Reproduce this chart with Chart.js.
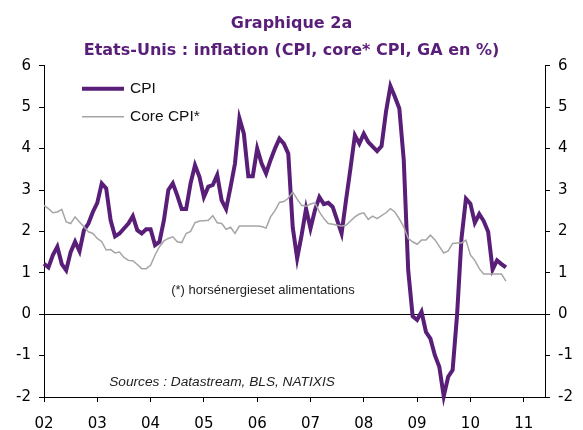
<!DOCTYPE html>
<html>
<head>
<meta charset="utf-8">
<script src="https://cdn.jsdelivr.net/npm/chart.js@4.4.0/dist/chart.umd.min.js"></script>
<style>
  html, body { margin: 0; padding: 0; background: #fff; }
  #wrap { width: 583px; height: 430px; }
</style>
</head>
<body>
<div id="wrap"><canvas id="inflationChart" width="583" height="430"></canvas></div>
<script>
// monthly YoY %, Jan 2002 -> Sep 2010
const startYear = 2002;
const xTickLabels = ['02', '03', '04', '05', '06', '07', '08', '09', '10', '11'];
const cpiValues = [
  1.22, 1.13, 1.43, 1.63, 1.21, 1.06, 1.5, 1.75, 1.52, 2.03, 2.19, 2.47,
  2.69, 3.16, 3.04, 2.27, 1.88, 1.95, 2.07, 2.19, 2.37, 2.03, 1.95, 2.05,
  2.05, 1.67, 1.75, 2.27, 3.0, 3.16, 2.87, 2.54, 2.54, 3.16, 3.6, 3.32,
  2.83, 3.08, 3.12, 3.36, 2.75, 2.54, 3.07, 3.64, 4.73, 4.36, 3.33, 3.33,
  4.0, 3.64, 3.4, 3.72, 4.0, 4.24, 4.12, 3.88, 2.1, 1.35, 1.91, 2.55,
  2.07, 2.51, 2.83, 2.66, 2.69, 2.59, 2.27, 1.95, 2.75, 3.52, 4.32, 4.12,
  4.36, 4.16, 4.05, 3.94, 4.06, 4.89, 5.51, 5.25, 4.97, 3.72, 1.06, -0.05,
  -0.14, 0.06, -0.43, -0.59, -0.99, -1.27, -1.98, -1.51, -1.35, -0.02, 1.83, 2.79,
  2.67, 2.21, 2.42, 2.25, 1.99, 1.08, 1.3, 1.21, 1.13
];
const coreCpiValues = [
  2.63, 2.55, 2.45, 2.47, 2.53, 2.23, 2.19, 2.35, 2.23, 2.11, 1.99, 1.95,
  1.83, 1.75, 1.55, 1.56, 1.48, 1.5, 1.37, 1.3, 1.29, 1.2, 1.1, 1.1,
  1.18, 1.43, 1.63, 1.77, 1.83, 1.87, 1.75, 1.73, 1.95, 2.0, 2.21, 2.25,
  2.26, 2.27, 2.38, 2.21, 2.19, 2.05, 2.1, 1.95, 2.13, 2.13, 2.13, 2.13,
  2.13, 2.12, 2.08, 2.35, 2.5, 2.7, 2.72, 2.8, 2.95, 2.78, 2.63, 2.61,
  2.66, 2.69, 2.47, 2.31, 2.19, 2.17, 2.15, 2.13, 2.15, 2.25, 2.35, 2.42,
  2.45, 2.29, 2.37, 2.31, 2.38, 2.45, 2.55, 2.47, 2.3, 2.11, 1.83, 1.75,
  1.69, 1.79, 1.79, 1.91, 1.8, 1.64, 1.48, 1.53, 1.71, 1.72, 1.72, 1.79,
  1.43, 1.3, 1.1, 0.97, 0.97, 0.97, 0.97, 0.97, 0.8
];
const seriesNames = ['CPI', 'Core CPI*'];
const titleLines = ['Graphique 2a', 'Etats-Unis : inflation (CPI, core* CPI, GA en %)'];
const footnote = '(*) horsénergieset alimentations';
const sourceNote = 'Sources : Datastream, BLS, NATIXIS';

const purple = 'rgb(88, 30, 120)';
const grey = 'rgb(165, 165, 165)';
const fontFamily = "'Liberation Sans', Arial, sans-serif";
const wideFamily = "'DejaVu Sans', sans-serif";

function toPoints(values) {
  return values.map((v, i) => ({ x: startYear + i / 12, y: v }));
}

const zeroLine = {
  id: 'zeroLine',
  beforeDatasetsDraw(chart) {
    const { ctx, chartArea, scales } = chart;
    const y = Math.round(scales.y.getPixelForValue(0)) + 0.5;
    ctx.save();
    ctx.strokeStyle = '#000';
    ctx.lineWidth = 1;
    ctx.beginPath();
    ctx.moveTo(chartArea.left, y);
    ctx.lineTo(chartArea.right, y);
    ctx.stroke();
    ctx.restore();
  }
};

// legend + notes drawn inside the plot
const notes = {
  id: 'notes',
  afterDraw(chart) {
    const { ctx, chartArea } = chart;
    const lx = chartArea.left + 38;
    const ly = chartArea.top + 23;
    ctx.save();
    ctx.lineCap = 'butt';
    ctx.strokeStyle = purple;
    ctx.lineWidth = 4;
    ctx.beginPath(); ctx.moveTo(lx, ly); ctx.lineTo(lx + 42, ly); ctx.stroke();
    ctx.strokeStyle = grey;
    ctx.lineWidth = 1.5;
    ctx.beginPath(); ctx.moveTo(lx, ly + 28); ctx.lineTo(lx + 42, ly + 28); ctx.stroke();
    ctx.fillStyle = '#111';
    ctx.font = '15.5px ' + fontFamily;
    ctx.textBaseline = 'middle';
    ctx.textAlign = 'left';
    ctx.fillText(seriesNames[0], lx + 48, ly);
    ctx.fillText(seriesNames[1], lx + 48, ly + 28);
    ctx.fillStyle = '#222';
    ctx.textAlign = 'center';
    ctx.font = '13px ' + fontFamily;
    ctx.fillText(footnote, 263, 290);
    ctx.font = 'italic 13.7px ' + fontFamily;
    ctx.fillText(sourceNote, 222, 382);
    ctx.restore();
  }
};

const axisGrid = { drawOnChartArea: false, color: '#000', tickLength: 5, lineWidth: 1 };
const axisBorder = { display: true, color: '#000', width: 1 };
const tickFont = { family: wideFamily, size: 15 };

new Chart(document.getElementById('inflationChart'), {
  type: 'line',
  data: {
    datasets: [
      {
        label: seriesNames[1],
        data: toPoints(coreCpiValues),
        borderColor: grey,
        borderWidth: 1.5,
        pointRadius: 0,
        tension: 0,
        clip: false
      },
      {
        label: seriesNames[0],
        data: toPoints(cpiValues),
        borderColor: purple,
        borderWidth: 4,
        pointRadius: 0,
        tension: 0,
        clip: false
      }
    ]
  },
  options: {
    responsive: false,
    animation: false,
    devicePixelRatio: 1,
    layout: { padding: 0 },
    plugins: {
      legend: { display: false },
      tooltip: { enabled: false },
      title: {
        display: true,
        text: titleLines,
        color: purple,
        font: { family: wideFamily, size: 16, weight: 'bold', lineHeight: 1.65 },
        padding: { top: 11, bottom: 2 }
      }
    },
    scales: {
      x: {
        type: 'linear',
        min: startYear,
        max: 2011.4,
        grid: axisGrid,
        border: axisBorder,
        ticks: {
          stepSize: 1,
          includeBounds: false,
          autoSkip: false,
          maxRotation: 0,
          color: '#000',
          font: tickFont,
          padding: 13,
          callback: v => xTickLabels[v - startYear]
        },
        afterFit: s => { s.height = 33; }
      },
      y: {
        position: 'left',
        min: -2,
        max: 6,
        grid: axisGrid,
        border: axisBorder,
        ticks: { stepSize: 1, color: '#000', font: tickFont, padding: 8 },
        afterFit: s => { s.width = 44; }
      },
      y2: {
        position: 'right',
        min: -2,
        max: 6,
        grid: axisGrid,
        border: axisBorder,
        ticks: { stepSize: 1, color: '#000', font: tickFont, padding: 8 },
        afterFit: s => { s.width = 38; }
      }
    }
  },
  plugins: [zeroLine, notes]
});
</script>
</body>
</html>
